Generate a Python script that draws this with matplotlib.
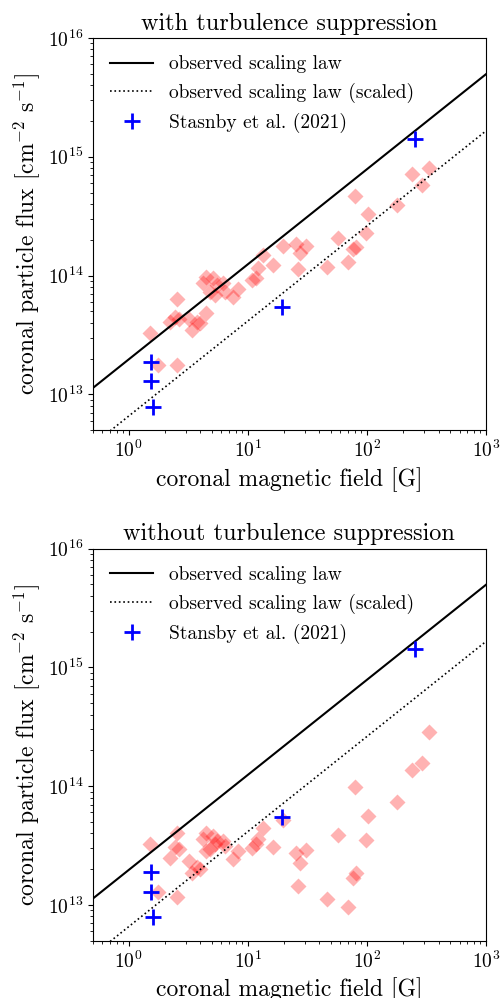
import numpy as np
import matplotlib
matplotlib.use("Agg")
import matplotlib.pyplot as plt

plt.rcParams["font.family"] = "cmr10"
plt.rcParams["mathtext.fontset"] = "cm"
plt.rcParams["axes.formatter.use_mathtext"] = True

# coronal magnetic field [G] of the modelled stars
B_field = [1.52, 1.76, 2.55, 2.55, 2.24, 2.44, 2.65, 3.21, 3.37, 3.71,
           3.96, 4.5, 4.44, 4.17, 5.12, 4.8, 5.29, 5.53, 6.21, 6.42,
           7.53, 8.3, 10.8, 11.7, 12.2, 13.5, 16.2,
           335, 293, 241.5, 79.6, 178, 103, 98.5, 56.9, 19.6, 25.4,
           30.6, 27.4, 81.1, 77, 26.5, 46, 69]

# coronal particle flux [cm^-2 s^-1], with turbulence suppression
flux_supp = [3.26e13, 1.76e13, 1.76e13, 6.37e13, 4.08e13, 4.45e13, 4.28e13, 4.35e13, 3.47e13, 4.08e13,
             3.95e13, 4.8e13, 9.75e13, 8.6e13, 9.46e13, 7.3e13, 6.84e13, 8.3e13, 8.6e13, 7.3e13,
             6.62e13, 7.64e13, 9.14e13, 9.46e13, 1.15e14, 1.49e14, 1.22e14,
             8.1e14, 5.8e14, 7.1e14, 4.65e14, 3.96e14, 3.27e14, 2.29e14, 2.07e14, 1.78e14, 1.84e14,
             1.78e14, 1.56e14, 1.74e14, 1.67e14, 1.13e14, 1.17e14, 1.29e14]

# coronal particle flux [cm^-2 s^-1], without turbulence suppression
flux_nosupp = [3.26e13, 1.28e13, 1.16e13, 4.0e13, 2.47e13, 3.09e13, 2.96e13, 2.36e13, 1.87e13, 2.1e13,
               2.02e13, 2.86e13, 4.05e13, 3.61e13, 3.83e13, 2.98e13, 3.28e13, 3.47e13, 3.47e13, 3.15e13,
               2.45e13, 2.86e13, 3.03e13, 3.28e13, 3.61e13, 4.47e13, 3.09e13,
               2.87e14, 1.57e14, 1.36e14, 9.75e13, 7.3e13, 5.6e13, 3.5e13, 3.85e13, 5.2e13, 2.76e13,
               2.88e13, 2.25e13, 1.87e13, 1.69e13, 1.45e13, 1.12e13, 9.7e12]

# Stansby et al. (2021) observations
obs_B = [1.53, 1.53, 1.6, 19.2, 254]
obs_flux = [1.88e13, 1.29e13, 7.9e12, 5.46e13, 1.42e15]

# observed scaling law F = F0 * B^alpha, and the same divided by 3
law_F0 = 1.97e13
law_alpha = 0.8
law_scale = 3.0

panels = [
    ("with turbulence suppression", flux_supp, "Stasnby et al. (2021)"),
    ("without turbulence suppression", flux_nosupp, "Stansby et al. (2021)"),
]
axes_pos = [[0.185, 0.569, 0.783, 0.393], [0.185, 0.0574, 0.783, 0.393]]

fig = plt.figure(figsize=(5.02, 9.98), dpi=100)
Bgrid = np.logspace(np.log10(0.5), 3, 50)

for (title, flux, obs_label), pos in zip(panels, axes_pos):
    ax = fig.add_axes(pos)
    ax.plot(B_field, flux, ls="none", marker="D", ms=8, color="red",
            alpha=0.3, mec="none")
    ax.plot(Bgrid, law_F0 * Bgrid ** law_alpha, "k-", lw=1.5,
            label="observed scaling law")
    ax.plot(Bgrid, law_F0 * Bgrid ** law_alpha / law_scale, "k:", lw=1.2,
            label="observed scaling law (scaled)")
    ax.plot(obs_B, obs_flux, ls="none", marker="+", ms=11, mew=2,
            color="blue", label=obs_label)
    ax.set_xscale("log")
    ax.set_yscale("log")
    ax.set_xlim(0.5, 1e3)
    ax.set_ylim(5e12, 1e16)
    ax.set_title(title, fontsize=17.5)
    ax.set_xlabel("coronal magnetic field [G]", fontsize=17)
    ax.set_ylabel(r"coronal particle flux [cm$^{-2}$ s$^{-1}$]", fontsize=17)
    ax.tick_params(labelsize=14)
    ax.legend(loc="upper left", frameon=False, fontsize=14, handlelength=2.2)

fig.savefig("out.png", dpi=100)
